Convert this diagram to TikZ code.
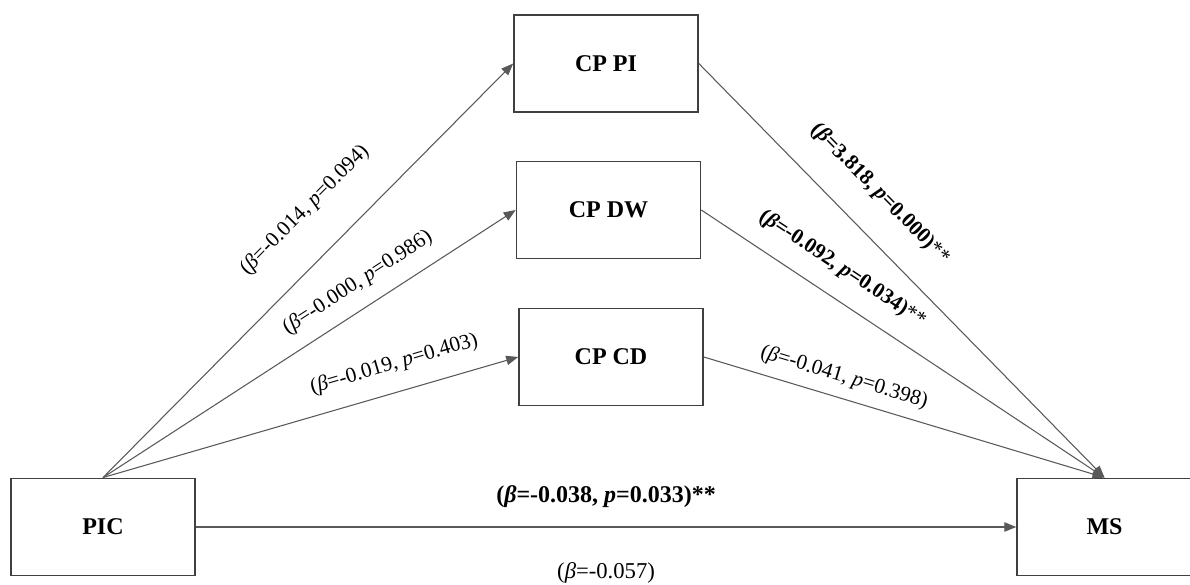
\documentclass[tikz,border=0pt]{standalone}
\usepackage{fontspec}
\setmainfont{Liberation Serif}
\usetikzlibrary{positioning,arrows.meta}

\newcommand{\bp}[2]{(\textit{β}=#1, \textit{p}=#2)}

\begin{document}
\begin{tikzpicture}[
  x=0.75pt, y=-0.75pt,
  every node/.style={font=\fontsize{16}{19}\selectfont},
  var/.style={rectangle, draw=black!75, fill=white, line width=1.2pt,
              minimum width=138pt, minimum height=73pt,
              font=\fontsize{18}{21}\selectfont\bfseries},
  arr/.style={-{Triangle[length=9pt,width=7pt]}, line width=0.8pt, black!65},
  coef/.style={inner sep=0pt, text=black, font=\fontsize{16}{19}\selectfont},
  sig/.style={inner sep=0pt, text=black, font=\fontsize{16}{19}\selectfont\bfseries},
]
\useasboundingbox (0,0) rectangle (1190,585);

% Variables
\node[var] (PIC) at (103,527) {PIC};
\node[var, minimum width=131pt] (MS) at (1104.5,527) {MS};
\node[var] (PI) at (606,63.5) {CP PI};
\node[var] (DW) at (608.5,210) {CP DW};
\node[var] (CD) at (611,357) {CP CD};

% PIC to mediators
\draw[arr] (PIC.north) -- (PI.west)
  node[coef, pos=0.57, sloped, above=26pt] {\bp{-0.014}{0.094}};
\draw[arr] (PIC.north) -- (DW.west)
  node[coef, pos=0.65, sloped, above=11pt] {\bp{-0.000}{0.986}};
\draw[arr] (PIC.north) -- (CD.west)
  node[coef, pos=0.72, sloped, above=13pt] {\bp{-0.019}{0.403}};

% Mediators to MS
\draw[arr] (PI.east) -- (MS.north)
  node[sig, pos=0.38, sloped, above=21pt] {\bp{3.818}{0.000}\mdseries**};
\draw[arr] (DW.east) -- (MS.north)
  node[sig, pos=0.31, sloped, above=14pt] {\bp{-0.092}{0.034}\mdseries**};
\draw[arr] (CD.east) -- (MS.north)
  node[coef, pos=0.335, sloped, above=8pt] {\bp{-0.041}{0.398}};

% Direct path
\draw[arr] (PIC.east) -- (MS.west)
  node[sig, midway, above=14pt, font=\fontsize{18}{21}\selectfont\bfseries] {\bp{-0.038}{0.033}**}
  node[coef, midway, below=26pt, font=\fontsize{17}{20}\selectfont] {(\textit{β}=-0.057)};

\end{tikzpicture}
\end{document}
